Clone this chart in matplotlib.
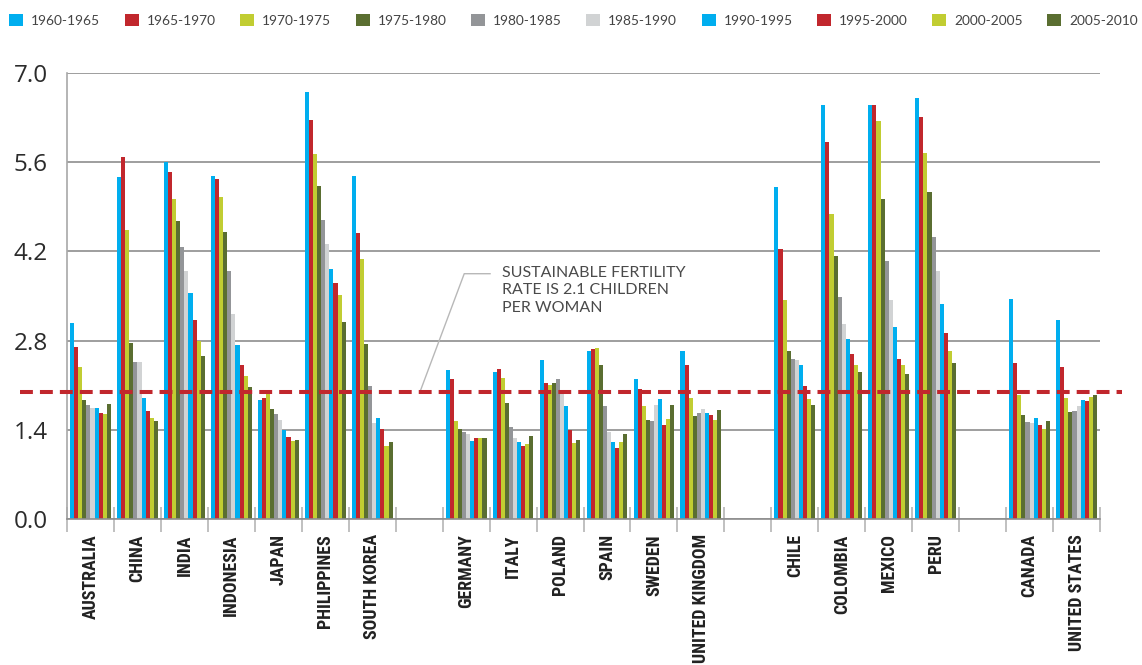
import matplotlib.pyplot as plt
import numpy as np
from matplotlib.patches import Patch
from matplotlib import font_manager

periods = ["1960-1965", "1965-1970", "1970-1975", "1975-1980", "1980-1985",
           "1985-1990", "1990-1995", "1995-2000", "2000-2005", "2005-2010"]
colors = ["#00AEEF", "#C1272D", "#C1CD32", "#5A6E31", "#939598",
          "#D1D3D4", "#00AEEF", "#C1272D", "#C1CD32", "#5A6E31"]

# fertility rate per country, one value per period
australia = [3.08, 2.70, 2.39, 1.87, 1.79, 1.74, 1.74, 1.67, 1.65, 1.80]
china = [5.37, 5.68, 4.54, 2.76, 2.47, 2.47, 1.90, 1.70, 1.59, 1.54]
india = [5.60, 5.45, 5.03, 4.67, 4.27, 3.90, 3.54, 3.12, 2.80, 2.56]
indonesia = [5.38, 5.33, 5.06, 4.51, 3.90, 3.22, 2.73, 2.41, 2.24, 2.07]
japan = [1.87, 1.90, 2.01, 1.73, 1.65, 1.56, 1.39, 1.28, 1.22, 1.24]
philippines = [6.70, 6.27, 5.73, 5.22, 4.70, 4.32, 3.93, 3.70, 3.51, 3.09]
south_korea = [5.38, 4.49, 4.08, 2.74, 2.09, 1.50, 1.59, 1.42, 1.14, 1.21]
germany = [2.34, 2.19, 1.54, 1.42, 1.37, 1.34, 1.22, 1.27, 1.27, 1.27]
italy = [2.31, 2.36, 2.21, 1.82, 1.44, 1.27, 1.21, 1.14, 1.17, 1.30]
poland = [2.50, 2.13, 2.11, 2.13, 2.19, 1.96, 1.77, 1.39, 1.19, 1.24]
spain = [2.64, 2.67, 2.68, 2.41, 1.77, 1.37, 1.21, 1.11, 1.21, 1.33]
sweden = [2.19, 2.04, 1.77, 1.56, 1.54, 1.79, 1.88, 1.47, 1.57, 1.79]
united_kingdom = [2.64, 2.42, 1.90, 1.62, 1.67, 1.73, 1.67, 1.64, 1.56, 1.71]
chile = [5.21, 4.24, 3.44, 2.64, 2.51, 2.50, 2.41, 2.08, 1.88, 1.79]
colombia = [6.50, 5.92, 4.78, 4.13, 3.49, 3.06, 2.82, 2.59, 2.41, 2.30]
mexico = [6.49, 6.49, 6.25, 5.02, 4.05, 3.44, 3.01, 2.51, 2.41, 2.27]
peru = [6.60, 6.31, 5.75, 5.14, 4.43, 3.90, 3.38, 2.92, 2.64, 2.45]
canada = [3.46, 2.45, 1.94, 1.64, 1.53, 1.51, 1.59, 1.47, 1.42, 1.54]
united_states = [3.13, 2.39, 1.90, 1.68, 1.70, 1.77, 1.87, 1.85, 1.91, 1.94]

# "" / None = empty slot between regions
countries = ["AUSTRALIA", "CHINA", "INDIA", "INDONESIA", "JAPAN", "PHILIPPINES", "SOUTH KOREA", "",
             "GERMANY", "ITALY", "POLAND", "SPAIN", "SWEDEN", "UNITED KINGDOM", "",
             "CHILE", "COLOMBIA", "MEXICO", "PERU", "",
             "CANADA", "UNITED STATES"]
data = [australia, china, india, indonesia, japan, philippines, south_korea, None,
        germany, italy, poland, spain, sweden, united_kingdom, None,
        chile, colombia, mexico, peru, None,
        canada, united_states]

replacement = 2.0
yticks = [0.0, 1.4, 2.8, 4.2, 5.6, 7.0]

names = {f.name for f in font_manager.fontManager.ttflist}
label_font = "Roboto Condensed" if "Roboto Condensed" in names else "Roboto"
legend_font = "Lato"

fig = plt.figure(figsize=(11.42, 6.65), dpi=100)
ax = fig.add_axes([67/1142, 1-519/665, 1033/1142, 446/665])
renderer = fig.canvas.get_renderer()


def fit_size(txt, target_px, **kw):
    t = fig.text(0, 0, txt, fontsize=10, **kw)
    wpx = t.get_window_extent(renderer).width
    t.remove()
    return 10 * target_px / wpx


n = len(periods)
w = 0.087
for i, vals in enumerate(data):
    if vals is None:
        continue
    for j in range(n):
        ax.bar(i + 0.5 + (j - (n-1)/2) * w, vals[j], width=w, color=colors[j], linewidth=0)

ax.set_xlim(0, len(countries))
ax.set_ylim(0, 7.0)
ax.set_axisbelow(True)
ax.yaxis.grid(True, color="#8e8e8e", lw=1.2)
ax.set_yticks(yticks)
ax.set_yticklabels(["%.1f" % v for v in yticks], fontsize=17.5, color="#2b2b2b", family="Open Sans")
ax.tick_params(axis="y", length=0, pad=14)

lab_kw = dict(family=label_font, fontweight="bold")
lab_size = min(16, fit_size("UNITED KINGDOM", 128, **lab_kw))

ax.set_xticks(np.arange(len(countries) + 1))
ax.set_xticklabels([])
ax.tick_params(axis="x", which="major", direction="inout", length=18, color="#b5b5b5", width=1.2)
ax.set_xticks(np.arange(len(countries)) + 0.5, minor=True)
ax.set_xticklabels(countries, minor=True, rotation=90, fontsize=lab_size, color="#222222",
                   va="top", ha="center", **lab_kw)
ax.tick_params(axis="x", which="minor", length=0, pad=11)

for s in ["top", "right"]:
    ax.spines[s].set_visible(False)
ax.spines["left"].set_color("#a8a8a8")
ax.spines["left"].set_linewidth(1.2)
ax.spines["bottom"].set_color("#8e8e8e")
ax.spines["bottom"].set_linewidth(1.2)

# replacement fertility line
ax.plot([-1.0, 22.47], [replacement, replacement], color="#C1272D", lw=2.9,
        ls=(0, (3.2, 1.75)), clip_on=False, zorder=5)

# annotation with leader line
ax.plot([9.01, 8.46, 7.52], [3.85, 3.85, replacement], color="#b8b8b8", lw=1, zorder=4)
ax.text(9.27, 3.97, "SUSTAINABLE FERTILITY\nRATE IS 2.1 CHILDREN\nPER WOMAN",
        fontsize=11.5, color="#4a4a4a", family="Lato", va="top", ha="left", linespacing=1.3)

leg_kw = dict(family=legend_font)
leg_size = fit_size("1960-1965", 69, **leg_kw)
em = leg_size * 100 / 72  # font size in px
handles = [Patch(facecolor=c, edgecolor="none") for c in colors]
fig.legend(handles, periods, loc="upper left", bbox_to_anchor=(9/1142, 1-14/665), ncol=10,
           frameon=False, handlelength=14/em, handleheight=13/em, handletextpad=8/em,
           columnspacing=24.5/em, borderaxespad=0, borderpad=0,
           prop=dict(size=leg_size, **leg_kw), labelcolor="#444444")

fig.savefig("out.png", dpi=100)
